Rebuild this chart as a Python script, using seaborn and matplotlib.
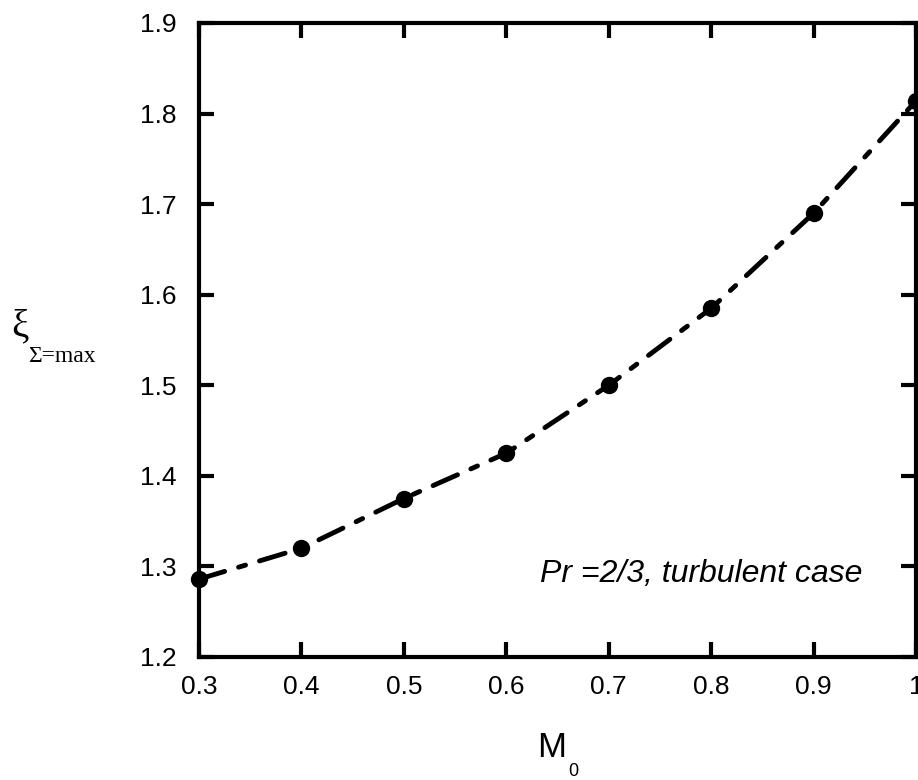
import matplotlib
matplotlib.use("Agg")
import matplotlib.pyplot as plt
import seaborn as sns
import pandas as pd

mach = [0.3, 0.4, 0.5, 0.6, 0.7, 0.8, 0.9, 1.0]
xi_max = [1.286, 1.320, 1.375, 1.425, 1.500, 1.585, 1.690, 1.814]
x_ticks = [0.3, 0.4, 0.5, 0.6, 0.7, 0.8, 0.9, 1.0]
x_ticklabels = ["0.3", "0.4", "0.5", "0.6", "0.7", "0.8", "0.9", "1"]
y_ticks = [1.2, 1.3, 1.4, 1.5, 1.6, 1.7, 1.8, 1.9]
y_ticklabels = ["1.2", "1.3", "1.4", "1.5", "1.6", "1.7", "1.8", "1.9"]
note = "Pr =2/3, turbulent case"

sns.set_style("ticks")
plt.rcParams["font.family"] = ["Liberation Sans", "DejaVu Sans"]
plt.rcParams["text.color"] = "black"
plt.rcParams["xtick.color"] = "black"
plt.rcParams["ytick.color"] = "black"
plt.rcParams["xtick.labelcolor"] = "black"
plt.rcParams["ytick.labelcolor"] = "black"

df = pd.DataFrame({"M0": mach, "xi": xi_max})

fig = plt.figure(figsize=(9.18, 7.8), dpi=100)
ax = fig.add_axes([199 / 918, 1 - 657 / 780, (916 - 199) / 918, (657 - 23) / 780])

sns.lineplot(data=df, x="M0", y="xi", ax=ax, color="black", linewidth=3.5,
             marker="o", markersize=12.5, markeredgewidth=0, markerfacecolor="black",
             dashes=False, clip_on=False, zorder=5)
line = ax.lines[0]
line.set_linestyle((0, (5.5, 3, 1.5, 3)))
line.set_dash_capstyle("round")

ax.set_xlim(0.3, 1.0)
ax.set_ylim(1.2, 1.9)
ax.set_xticks(x_ticks)
ax.set_xticklabels(x_ticklabels)
ax.set_yticks(y_ticks)
ax.set_yticklabels(y_ticklabels)
ax.set_xlabel("")
ax.set_ylabel("")

for s in ax.spines.values():
    s.set_visible(True)
    s.set_linewidth(3.0)
    s.set_color("black")

ax.tick_params(axis="both", which="major", direction="in", length=11, width=3.0,
               top=True, right=True, labelsize=19, colors="black")
ax.tick_params(axis="y", pad=16)
ax.tick_params(axis="x", pad=13)

fig.text(540 / 918, 1 - 582 / 780, note, fontsize=23, color="black",
         style="italic", ha="left", va="baseline")

fig.text(537 / 918, 1 - 757 / 780, "M", fontsize=25, color="black", ha="left", va="baseline")
fig.text(568 / 918, 1 - 776 / 780, "0", fontsize=13, color="black", ha="left", va="baseline")

fig.text(11 / 918, 1 - 336 / 780, "\u03be", fontsize=28, color="black",
         family=["Liberation Serif", "DejaVu Serif"], ha="left", va="baseline")
fig.text(28 / 918, 1 - 362 / 780, "\u03a3=max", fontsize=17, color="black",
         family=["Liberation Serif", "DejaVu Serif"], ha="left", va="baseline")

fig.savefig("out.png", dpi=100)
